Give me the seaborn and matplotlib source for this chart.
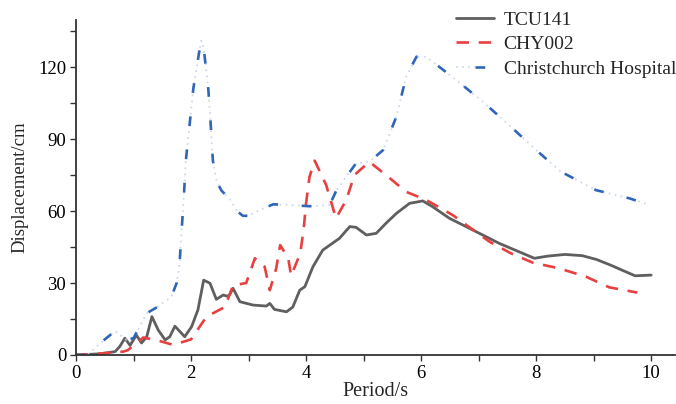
import numpy as np
import pandas as pd
import matplotlib
matplotlib.use("Agg")
import matplotlib.pyplot as plt
import seaborn as sns
from matplotlib.ticker import MultipleLocator
from matplotlib.legend_handler import HandlerTuple
from matplotlib.lines import Line2D

# ---- data ----
tcu_x = [0, 0.42, 0.68, 0.76, 0.85, 0.94, 1.05, 1.14, 1.23, 1.32, 1.43, 1.55, 1.63, 1.72, 1.81, 1.89,
         2.01, 2.12, 2.22, 2.33, 2.44, 2.56, 2.63, 2.67, 2.73, 2.85, 3.08, 3.31, 3.37, 3.45, 3.66, 3.77,
         3.89, 3.98, 4.12, 4.29, 4.58, 4.76, 4.87, 5.05, 5.22, 5.39, 5.57, 5.80, 6.03, 6.2, 6.49, 6.84,
         7.36, 7.97, 8.2, 8.5, 8.8, 9.05, 9.3, 9.5, 9.72, 10.0]
tcu_y = [0, 0.5, 1.4, 3.5, 7, 4, 8.3, 5, 7.6, 16, 10.4, 6.3, 7.6, 12, 9.7, 7.6,
         11.8, 18.8, 31.2, 29.9, 23.2, 25, 24.5, 25, 27.8, 22.2, 20.8, 20.4, 21.5, 19, 18, 20,
         27, 28.5, 36.8, 43.7, 48.6, 53.5, 53.2, 50, 50.7, 54.9, 59, 63.2, 64.2, 61.8, 57, 52.8,
         46.5, 40.3, 41.2, 41.9, 41.4, 39.8, 37.4, 35.3, 33.0, 33.3]

chy_x = [0, 0.47, 0.82, 0.9, 1.05, 1.17, 1.43, 1.69, 2.0, 2.27, 2.59, 2.73, 2.96, 3.11, 3.28, 3.37,
         3.48, 3.55, 3.69, 3.74, 3.9, 3.96, 4.0, 4.06, 4.15, 4.35, 4.52, 4.7, 4.84, 5.1, 5.39, 5.74,
         6.09, 6.55, 7.19, 7.56, 7.94, 8.4, 8.87, 9.27, 9.76]
chy_y = [0, 0.7, 1.4, 2.0, 4.9, 7.3, 6.0, 4.2, 6.5, 16, 20, 29, 30, 40.3, 36.8, 27,
         36, 45.8, 40.3, 33, 42.4, 52.8, 63.2, 74.3, 81, 70.8, 57, 64.6, 75, 80.5, 75, 68,
         64.6, 58.3, 47.2, 42.4, 38.5, 36.1, 32.6, 28.2, 26]

chc_x = [0, 0.2, 0.45, 0.68, 0.88, 1.0, 1.23, 1.45, 1.66, 1.75, 1.8, 1.84, 1.88, 1.91, 1.98, 2.04,
         2.14, 2.18, 2.22, 2.3, 2.34, 2.38, 2.45, 2.53, 2.67, 2.8, 2.9, 3.0, 3.2, 3.43, 3.7, 4.06,
         4.41, 4.53, 4.87, 5.1, 5.34, 5.57, 5.74, 5.92, 6.09, 6.61, 7.07, 7.53, 8.0, 8.43, 9.04,
         9.62, 9.97]
chc_y = [0, 0, 5.5, 10, 6.3, 7, 17.4, 20.5, 24.3, 30, 38, 53, 68, 81, 97, 111,
         126, 131, 128, 111, 97, 81, 72, 68.5, 65, 60, 58, 58, 60.5, 62.8, 62.5, 62,
         62.5, 68.7, 79.9, 80.5, 85.4, 99.3, 116, 124.3, 124.3, 114.6, 105.6, 95.8, 85.4, 76.4, 68.7,
         65.3, 62.5]

names = ["TCU141", "CHY002", "Christchurch Hospital"]
x_ticks = [0, 2, 4, 6, 8, 10]
y_ticks = [0, 30, 60, 90, 120]

sns.set_theme(style="ticks")
plt.rcParams["font.family"] = ["Liberation Serif", "DejaVu Serif"]
plt.rcParams["lines.scale_dashes"] = False

fig = plt.figure(figsize=(6.76, 4.04), dpi=100)
ax = fig.add_axes([0.1124, 0.1213, 0.8866, 0.8292])

gray = "#5f5f5f"
red = "#e84040"
blue = "#2f66b8"
pale = "#c9d7ef"

sns.lineplot(x=tcu_x, y=tcu_y, ax=ax, color=gray, lw=2.0, sort=False)
sns.lineplot(x=chy_x, y=chy_y, ax=ax, color=red, lw=1.9, sort=False,
             linestyle=(0, (9, 7)))
sns.lineplot(x=chc_x, y=chc_y, ax=ax, color=pale, lw=1.3, sort=False,
             linestyle=(0, (1.2, 3.2)))
sns.lineplot(x=chc_x, y=chc_y, ax=ax, color=blue, lw=1.9, sort=False,
             linestyle=(0, (7, 17)))

h_tcu = Line2D([], [], color=gray, lw=2.0)
h_chy = Line2D([], [], color=red, lw=1.9, linestyle=(0, (9, 7)))
h_pale = Line2D([], [], color=pale, lw=1.3, linestyle=(0, (1.2, 3.2)))
h_blue = Line2D([], [], color=blue, lw=1.9, linestyle=(0, (7, 13)))
ax.legend([h_tcu, h_chy, (h_pale, h_blue)], names, loc="upper left",
          bbox_to_anchor=(456 / 676, 0.9726),
          bbox_transform=fig.transFigure, frameon=False, borderpad=0, borderaxespad=0,
          fontsize=14, handlelength=1.95, handletextpad=0.5, labelspacing=0.35,
          handler_map={tuple: HandlerTuple(ndivide=None)})

ax.set_xlim(0, 10.42)
ax.set_ylim(0, 139.6)
ax.set_xticks(x_ticks)
ax.set_yticks(y_ticks)
ax.xaxis.set_minor_locator(MultipleLocator(1))
ax.yaxis.set_minor_locator(MultipleLocator(15))
ax.tick_params(which="both", direction="out", length=4, width=1.0, color="#333333",
               labelsize=13.5, pad=3, labelcolor="black")
ax.set_xlabel("Period/s", fontsize=14.5, labelpad=0)
ax.set_ylabel("Displacement/cm", fontsize=13.5, labelpad=7)
for s in ["top", "right"]:
    ax.spines[s].set_visible(False)
for s in ["left", "bottom"]:
    ax.spines[s].set_linewidth(1.3)
    ax.spines[s].set_color("#333333")

fig.savefig("out.png", dpi=100)
